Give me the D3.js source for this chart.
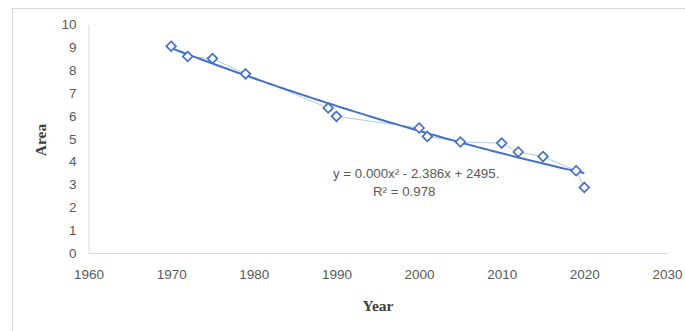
<!DOCTYPE html>
<html>
<head>
<meta charset="utf-8">
<script src="https://cdn.jsdelivr.net/npm/d3@7"></script>
<style>
  html, body { margin: 0; padding: 0; background: #fff; }
  svg { display: block; }
</style>
</head>
<body>
<svg id="chart" width="685" height="331"></svg>
<script>
// Observed water area by year
const years = [1970, 1972, 1975, 1979, 1989, 1990, 2000, 2001, 2005, 2010, 2012, 2015, 2019, 2020];
const area  = [9.05, 8.60, 8.51, 7.84, 6.35, 5.98, 5.47, 5.10, 4.86, 4.81, 4.42, 4.22, 3.60, 2.87];
const xTicks = [1960, 1970, 1980, 1990, 2000, 2010, 2020, 2030];
const yTicks = [0, 1, 2, 3, 4, 5, 6, 7, 8, 9, 10];
const equationText = "y = 0.000x² - 2.386x + 2495.";
const rSquaredText = "R² = 0.978";

const svg = d3.select("#chart");
const W = 685, H = 331;

// chart frame
svg.append("rect")
  .attr("x", 12.5).attr("y", 8.5)
  .attr("width", W).attr("height", H)
  .attr("fill", "#fff").attr("stroke", "#d9d9d9").attr("stroke-width", 1);

const x = d3.scaleLinear().domain([1960, 2030]).range([88.5, 667]);
const y = d3.scaleLinear().domain([0, 10]).range([253, 24.5]);

const tickFont = "'Liberation Sans', Arial, sans-serif";

// axes
const xAxis = svg.append("g")
  .attr("transform", `translate(0,${y(0)})`)
  .call(d3.axisBottom(x).tickValues(xTicks).tickSize(0).tickPadding(16).tickFormat(d3.format("d")));
xAxis.select(".domain").attr("stroke", "#d9d9d9");
xAxis.selectAll("text").attr("fill", "#595959").style("font-family", tickFont).style("font-size", "13.5px");

const yAxis = svg.append("g")
  .attr("transform", `translate(${x(1960)},0)`)
  .call(d3.axisLeft(y).tickValues(yTicks).tickSize(0).tickPadding(12));
yAxis.select(".domain").attr("stroke", "#d9d9d9");
yAxis.selectAll("text").attr("fill", "#595959").style("font-family", tickFont).style("font-size", "13.5px");

// axis titles
svg.append("text")
  .attr("transform", "translate(46,140) rotate(-90)")
  .attr("text-anchor", "middle")
  .style("font-family", "'Liberation Serif', 'Times New Roman', serif")
  .style("font-weight", "bold").style("font-size", "15.5px")
  .attr("fill", "#404040")
  .text("Area");

svg.append("text")
  .attr("x", 378).attr("y", 311)
  .attr("text-anchor", "middle")
  .style("font-family", "'Liberation Serif', 'Times New Roman', serif")
  .style("font-weight", "bold").style("font-size", "15.5px")
  .attr("fill", "#404040")
  .text("Year");

const pts = years.map((yr, i) => ({ year: yr, value: area[i] }));

// thin connecting line through the observations
svg.append("path")
  .datum(pts)
  .attr("fill", "none")
  .attr("stroke", "#b4c7e7")
  .attr("stroke-width", 1)
  .attr("d", d3.line().x(d => x(d.year)).y(d => y(d.value)));

// second-order polynomial trendline (least squares on centred years)
function polyFit2(xs, ys) {
  const xm = d3.mean(xs);
  const u = xs.map(v => v - xm);
  const n = u.length;
  let s1 = 0, s2 = 0, s3 = 0, s4 = 0, t0 = 0, t1 = 0, t2 = 0;
  u.forEach((v, i) => {
    s1 += v; s2 += v * v; s3 += v * v * v; s4 += v * v * v * v;
    t0 += ys[i]; t1 += v * ys[i]; t2 += v * v * ys[i];
  });
  const A = [[n, s1, s2, t0], [s1, s2, s3, t1], [s2, s3, s4, t2]];
  for (let c = 0; c < 3; c++) {
    for (let r = c + 1; r < 3; r++) {
      const f = A[r][c] / A[c][c];
      for (let k = c; k < 4; k++) A[r][k] -= f * A[c][k];
    }
  }
  const b = [0, 0, 0];
  for (let r = 2; r >= 0; r--) {
    let s = A[r][3];
    for (let k = r + 1; k < 3; k++) s -= A[r][k] * b[k];
    b[r] = s / A[r][r];
  }
  return t => { const v = t - xm; return b[0] + b[1] * v + b[2] * v * v; };
}
const trend = polyFit2(years, area);
const trendPts = d3.range(years[0], years[years.length - 1] + 0.01, 0.5).map(t => ({ year: t, value: trend(t) }));
svg.append("path")
  .datum(trendPts)
  .attr("fill", "none")
  .attr("stroke", "#4472c4")
  .attr("stroke-width", 2)
  .attr("d", d3.line().x(d => x(d.year)).y(d => y(d.value)));

// diamond markers
const diamond = d3.symbol().type(d3.symbolDiamond2).size(60);
svg.append("g").selectAll("path")
  .data(pts)
  .join("path")
  .attr("transform", d => `translate(${x(d.year)},${y(d.value)})`)
  .attr("d", diamond)
  .attr("fill", "#fff")
  .attr("stroke", "#4472c4")
  .attr("stroke-width", 1.7);

// trendline equation
const eqFont = "'Liberation Sans', Arial, sans-serif";
svg.append("text")
  .attr("x", 333).attr("y", 178)
  .style("font-family", eqFont).style("font-size", "13.3px")
  .attr("fill", "#595959")
  .text(equationText);
svg.append("text")
  .attr("x", 373).attr("y", 196)
  .style("font-family", eqFont).style("font-size", "13.3px")
  .attr("fill", "#595959")
  .text(rSquaredText);
</script>
</body>
</html>
